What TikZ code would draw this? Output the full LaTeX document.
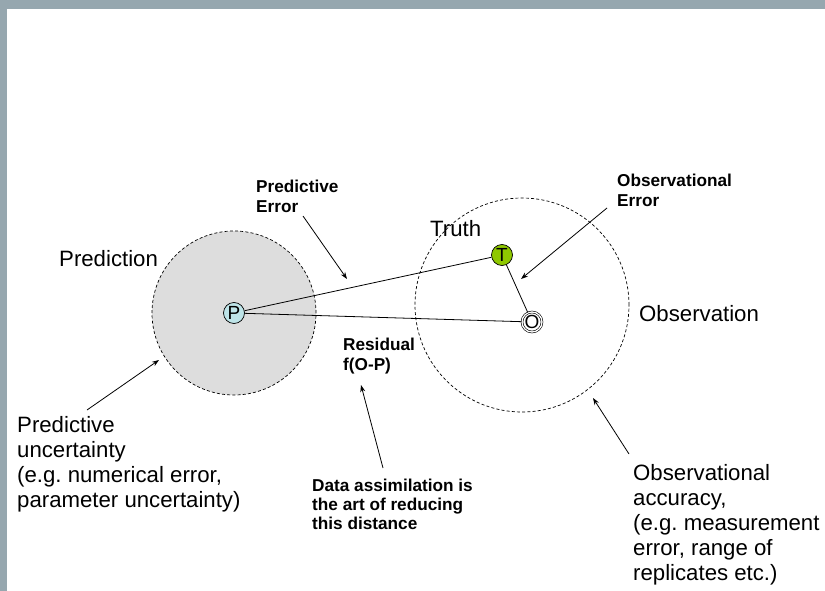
\documentclass[tikz,border=0pt]{standalone}
\usepackage{fontspec}
\setmainfont{Liberation Sans}
\usetikzlibrary{arrows.meta}
\definecolor{framegray}{RGB}{150,167,175}
\definecolor{zonegray}{RGB}{221,221,221}
\definecolor{predcyan}{RGB}{190,228,232}
\definecolor{truthgreen}{RGB}{143,200,0}
\frenchspacing
\begin{document}
\begin{tikzpicture}[x=1pt,y=-1pt,
  lbl/.style={anchor=base west, align=left, inner sep=0pt, font=\fontsize{22.2}{25}\selectfont},
  boldlbl/.style={anchor=base west, align=left, inner sep=0pt, font=\fontsize{17.2}{20}\selectfont\bfseries},
  zone/.style={circle, draw, dash pattern=on 3pt off 2.2pt, line width=0.7pt, inner sep=0pt},
  pointnode/.style={circle, draw=black, line width=0.7pt, inner sep=0pt, minimum size=21pt, font=\fontsize{19}{19}\selectfont},
  link/.style={line width=0.8pt},
  pointer/.style={line width=0.8pt, -{Stealth[length=7pt,width=5pt]}}
]
\useasboundingbox (0,0) rectangle (825,591);
% slide frame
\fill[framegray] (0,0) rectangle (825,9);
\fill[framegray] (0,0) rectangle (7,591);

% uncertainty zones
\node[zone, fill=zonegray, minimum size=164pt] (predzone) at (234,313) {};
\node[zone, minimum size=214pt] (obszone) at (522,305) {};

% states
\node[pointnode, fill=predcyan] (P) at (234,313) {P};
\node[pointnode, fill=truthgreen] (T) at (502,255) {T};
\node[pointnode, fill=white, minimum size=20pt, double, double distance=1.3pt, line width=0.6pt] (O) at (532,322) {O};

\draw[link] (P) -- (T);
\draw[link] (P) -- (O);
\draw[link] (T) -- (O);

% plain labels (anchored on the baseline of the last line)
\node[lbl] (predlbl) at (59,266) {Prediction};
\node[lbl] (truthlbl) at (430,236) {Truth};
\node[lbl] (obslbl) at (639,321) {Observation};
\node[lbl] (predunc) at (17,507) {Predictive\\uncertainty\\(e.g. numerical error,\\parameter uncertainty)};
\node[lbl] (obsacc) at (633,580) {Observational\\accuracy,\\(e.g. measurement\\error, range of\\replicates etc.)};

% bold annotations
\node[boldlbl] (prederr) at (256,212) {Predictive\\Error};
\node[boldlbl] (obserr) at (617,206) {Observational\\Error};
\node[boldlbl] (resid) at (343,370) {Residual\\f(O-P)};
\node[boldlbl, font=\fontsize{17.2}{19}\selectfont\bfseries] (dalbl) at (312,529) {Data assimilation is\\the art of reducing\\this distance};

% pointers
\coordinate (pe-tail) at (303,216);
\coordinate (pe-head) at (347,279);
\coordinate (oe-tail) at (607,208);
\coordinate (oe-head) at (521,279);
\coordinate (da-tail) at (383,468);
\coordinate (da-head) at (361,385);
\coordinate (pu-tail) at (87,410);
\coordinate (pu-head) at (159,360);
\coordinate (oa-tail) at (629,454);
\coordinate (oa-head) at (593,398);
\draw[pointer] (pe-tail) -- (pe-head);
\draw[pointer] (oe-tail) -- (oe-head);
\draw[pointer] (da-tail) -- (da-head);
\draw[pointer] (pu-tail) -- (pu-head);
\draw[pointer] (oa-tail) -- (oa-head);
\end{tikzpicture}
\end{document}
